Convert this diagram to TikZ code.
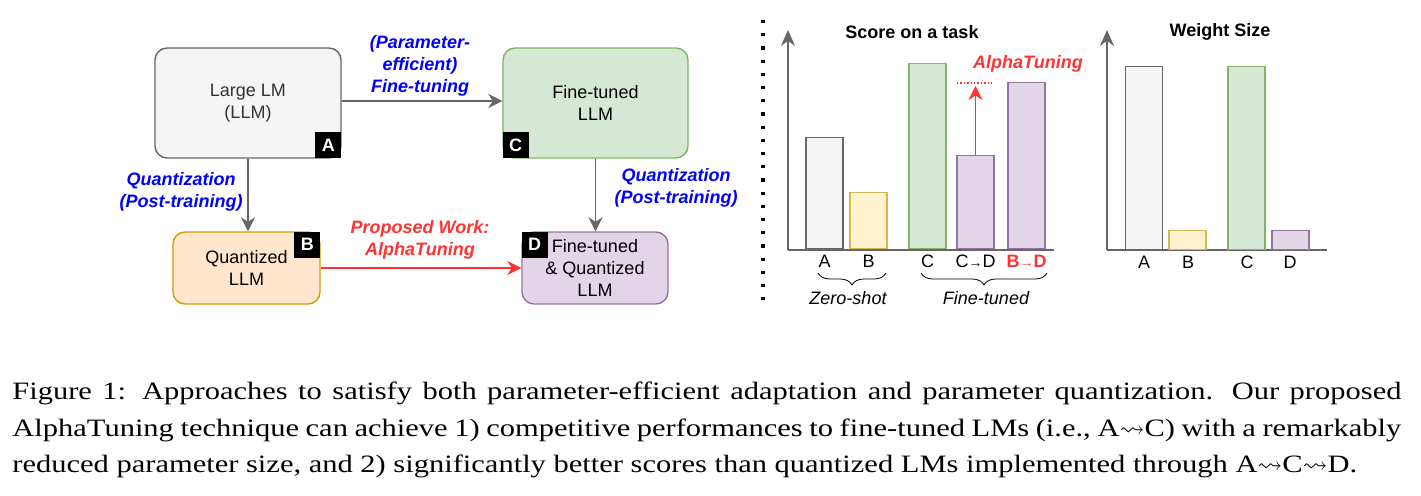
\documentclass[tikz,border=0pt]{standalone}
\usepackage{amsmath,amssymb}
\usepackage{fontspec}
\setmainfont{Liberation Serif}
\setsansfont{Liberation Sans}
\newfontfamily\capfont[FakeStretch=1.22]{Liberation Serif}
\usetikzlibrary{arrows.meta, positioning, decorations.pathreplacing}

\definecolor{llmgray}{HTML}{F5F5F5}
\definecolor{llmline}{HTML}{666666}
\definecolor{ftgreen}{HTML}{D5E8D4}
\definecolor{ftline}{HTML}{82B366}
\definecolor{qorange}{HTML}{FFE6CC}
\definecolor{qline}{HTML}{D79B00}
\definecolor{byellow}{HTML}{FFF2CC}
\definecolor{bline}{HTML}{D6B656}
\definecolor{dpurple}{HTML}{E1D5E7}
\definecolor{dline}{HTML}{9673A6}
\definecolor{alphared}{HTML}{FF3333}
\definecolor{labelblue}{HTML}{0000FF}

\begin{document}
\begin{tikzpicture}[
    x=0.5pt, y=-0.5pt,
    font=\sffamily\fontsize{9}{11}\selectfont,
    model/.style={rectangle, rounded corners=6pt, align=center, line width=0.7pt},
    tag/.style={rectangle, fill=black, text=white, font=\sffamily\bfseries\fontsize{9}{9}\selectfont, minimum size=13pt, inner sep=0pt},
    arrow/.style={line width=0.9pt, draw=llmline, -{Stealth[length=7pt, width=7pt]}},
    redarrow/.style={line width=0.9pt, draw=alphared, -{Stealth[length=7pt, width=7pt]}},
    steplabel/.style={font=\sffamily\bfseries\itshape\fontsize{9}{11}\selectfont, text=labelblue, align=center},
    bar/.style={rectangle, line width=0.7pt, minimum width=18.5pt, inner sep=0pt, anchor=south},
    axisline/.style={line width=0.9pt, draw=llmline},
    tick/.style={inner sep=0pt},
    charttitle/.style={font=\sffamily\bfseries\fontsize{9}{11}\selectfont},
]

    \useasboundingbox (0,0) rectangle (1421,496);

    % Model boxes
    \node (llm) [model, draw=llmline, fill=llmgray, text=black!80, minimum width=93pt, minimum height=55pt] at (248,103) {Large LM\\(LLM)};
    \node (ftllm) [model, draw=ftline, fill=ftgreen, minimum width=92.5pt, minimum height=55pt] at (595.5,103) {Fine-tuned\\LLM};
    \node (qllm) [model, draw=qline, fill=qorange, minimum width=73.5pt, minimum height=36pt] at (246.5,268) {Quantized\\LLM};
    \node (ftqllm) [model, draw=dline, fill=dpurple, minimum width=73pt, minimum height=36pt] at (595,268) {Fine-tuned\\\& Quantized\\LLM};

    \node (tagA) [tag, anchor=south east] at (llm.south east) {A};
    \node (tagC) [tag, anchor=south west] at (ftllm.south west) {C};
    \node (tagB) [tag, anchor=north east] at (qllm.north east) {B};
    \node (tagD) [tag, anchor=north west] at (ftqllm.north west) {D};

    \draw [arrow] (llm.east |- 0,101) -- (ftllm.west |- 0,101);
    \draw [arrow] (llm) -- (llm |- qllm.north);
    \draw [arrow] (ftllm) -- (ftllm |- ftqllm.north);
    \draw [redarrow] (qllm) -- (ftqllm);

    \node (petune) [steplabel] at (420,66) {(Parameter-\\efficient)\\Fine-tuning};
    \node (quantA) [steplabel] at (181,192) {Quantization\\(Post-training)};
    \node (quantC) [steplabel] at (676,188) {Quantization\\(Post-training)};
    \node (proposed) [steplabel, text=alphared] at (420,240) {Proposed Work:\\AlphaTuning};

    % Separator
    \draw [line width=1.6pt, dash pattern=on 1.6pt off 5pt] (763,20) -- (763,302);

    % Score on a task
    \node (scoretitle) [charttitle] at (912,32) {Score on a task};
    \draw [axisline] (788,250) -- (1054,250);
    \draw [axisline, -{Stealth[length=8pt, width=7pt]}] (788,250) -- (788,30);

    \node (sA) [bar, draw=llmline, fill=llmgray, minimum height=55.5pt] at (824.5,249) {};
    \node (sB) [bar, draw=bline, fill=byellow, minimum height=28pt] at (868.5,249) {};
    \node (sC) [bar, draw=ftline, fill=ftgreen, minimum height=92.5pt] at (927.5,249) {};
    \node (sCD) [bar, draw=dline, fill=dpurple, minimum height=46.5pt] at (975.5,249) {};
    \node (sBD) [bar, draw=dline, fill=dpurple, minimum height=83pt] at (1026.5,249) {};

    \node (lsA) [tick] at (824.5,261) {A};
    \node (lsB) [tick] at (868.5,261) {B};
    \node (lsC) [tick] at (927.5,261) {C};
    \node (lsCD) [tick] at (975.5,261) {C{\fontsize{7}{7}\selectfont →}D};
    \node (lsBD) [tick, text=alphared, font=\sffamily\bfseries\fontsize{9}{11}\selectfont] at (1026.5,261) {B{\fontsize{7}{7}\selectfont →}D};

    \draw [decorate, decoration={brace, mirror, amplitude=6pt}] (818,273) -- (886,273);
    \draw [decorate, decoration={brace, mirror, amplitude=6pt}] (921,273) -- (1047,273);
    \node (zeroshot) [font=\sffamily\itshape\fontsize{9}{11}\selectfont] at (848,298) {Zero-shot};
    \node (finetuned) [font=\sffamily\itshape\fontsize{9}{11}\selectfont] at (986,298) {Fine-tuned};

    \coordinate (gaintop) at (975.5,86);
    \draw [redarrow] (sCD.north) -- (gaintop);
    \draw [alphared, line width=0.7pt, densely dotted] (957,83) -- (993,83);
    \node (gain) [steplabel, text=alphared] at (1028,64) {AlphaTuning};

    % Weight Size
    \node (sizetitle) [charttitle] at (1220,32) {Weight Size};
    \draw [axisline] (1107,250) -- (1327,250);
    \draw [axisline, -{Stealth[length=8pt, width=7pt]}] (1107,250) -- (1107,30);

    \node (wA) [bar, draw=llmline, fill=llmgray, minimum height=91.5pt] at (1144,250) {};
    \node (wB) [bar, draw=bline, fill=byellow, minimum height=9.5pt] at (1187.5,250) {};
    \node (wC) [bar, draw=ftline, fill=ftgreen, minimum height=91.5pt] at (1246.5,250) {};
    \node (wD) [bar, draw=dline, fill=dpurple, minimum height=9.5pt] at (1290.5,250) {};

    \node (lwA) [tick] at (1144,262) {A};
    \node (lwB) [tick] at (1188,262) {B};
    \node (lwC) [tick] at (1247,262) {C};
    \node (lwD) [tick] at (1290,262) {D};

    % Caption
    \node (caption) [anchor=north west, inner sep=0pt, text width=694.5pt, align=justify, font=\capfont\fontsize{12.5}{18}\selectfont] at (12,382) {Figure 1: Approaches to satisfy both parameter-efficient adaptation and parameter quantization. Our proposed\linebreak AlphaTuning technique can achieve 1) competitive performances to fine-tuned LMs (i.e., A$\leadsto$C) with a remarkably\linebreak reduced parameter size, and 2) significantly better scores than quantized LMs implemented through A$\leadsto$C$\leadsto$D.};

\end{tikzpicture}
\end{document}
